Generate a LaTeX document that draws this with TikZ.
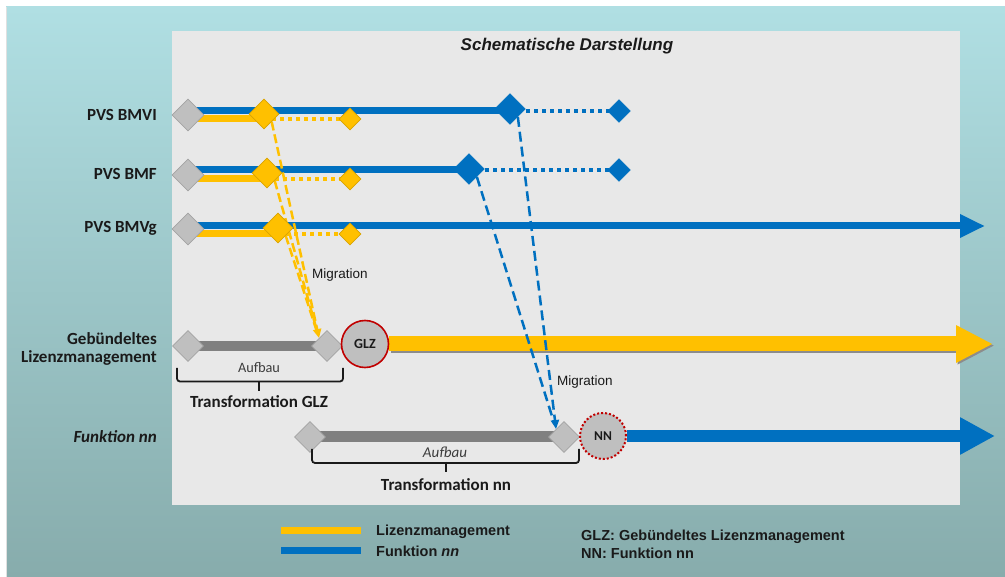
\documentclass[tikz,border=0pt]{standalone}
\usepackage{fontspec}
\setmainfont{Liberation Sans}
\newfontfamily\calfont{Carlito}
\usetikzlibrary{shapes.geometric,arrows.meta}
\pgfdeclarelayer{back}
\pgfdeclarelayer{bg}
\pgfsetlayers{back,bg,main}

\definecolor{tealtop}{HTML}{B0DFE3}
\definecolor{tealbot}{HTML}{87ACAC}
\definecolor{panel}{HTML}{E8E8E8}
\definecolor{fblue}{HTML}{0070C0}
\definecolor{lyellow}{HTML}{FFC000}
\definecolor{ydark}{HTML}{D9A300}
\definecolor{dgray}{HTML}{BFBFBF}
\definecolor{dgrayb}{HTML}{A3A3A3}
\definecolor{bargray}{HTML}{808080}
\definecolor{glzred}{HTML}{C00000}
\definecolor{txt}{HTML}{1A1A1A}

\tikzset{
  gdiam/.style={diamond, draw=dgrayb, fill=dgray, line width=0.8pt, inner sep=0pt, minimum size=32pt},
  ydiam/.style={diamond, draw=ydark, fill=lyellow, line width=0.6pt, inner sep=0pt, minimum size=30pt},
  ysmall/.style={ydiam, minimum size=22pt},
  bdiam/.style={diamond, draw=fblue, fill=fblue, inner sep=0pt, minimum size=31pt},
  bsmall/.style={bdiam, minimum size=23pt},
  blueline/.style={fblue, line width=7pt},
  yline/.style={lyellow, line width=7pt},
  ydot/.style={lyellow, line width=4pt, dash pattern=on 4pt off 4pt},
  bdot/.style={fblue, line width=4pt, dash pattern=on 4pt off 4pt},
  ymig/.style={lyellow, line width=2.5pt, dash pattern=on 9pt off 4pt},
  bmig/.style={fblue, line width=2.5pt, dash pattern=on 10pt off 5pt},
  migtip/.style={-{Triangle[length=9pt,width=8pt]}},
  graybar/.style={bargray, line width=10pt},
  brace/.style={draw=txt, line width=1.8pt, rounded corners=3pt},
  rowlab/.style={anchor=base east, inner sep=0pt, text=txt, align=right,
    font=\calfont\bfseries\fontsize{17}{18}\selectfont},
  translab/.style={anchor=base, inner sep=0pt, text=txt,
    font=\calfont\bfseries\fontsize{17}{18}\selectfont},
  auflab/.style={anchor=base, inner sep=0pt, text=txt!85,
    font=\calfont\fontsize{14.3}{16}\selectfont},
  miglab/.style={anchor=base west, inner sep=0pt, text=txt,
    font=\fontsize{13.5}{15}\selectfont},
  leglab/.style={anchor=base west, inner sep=0pt, text=txt,
    font=\bfseries\fontsize{14.5}{16}\selectfont},
}

\begin{document}
\begin{tikzpicture}[x=1pt,y=-1pt]
\useasboundingbox (0,0) rectangle (1005,577);

% backdrop and drawing panel
\begin{pgfonlayer}{back}
  \fill[white] (0,0) rectangle (1005,577);
  \shade[top color=tealtop, bottom color=tealbot] (6,7) rectangle (1005,577);
  \draw[black!12, line width=0.8pt] (6.4,7) -- (6.4,577);
  \fill[panel] (172,31) rectangle (960,505);
\end{pgfonlayer}

\node[anchor=base, inner sep=0pt, text=txt, font=\bfseries\itshape\fontsize{17}{19}\selectfont]
  (title) at (567,51) {Schematische Darstellung};

% row labels
\node[rowlab] (l1) at (157,121) {PVS BMVI};
\node[rowlab] (l2) at (157,180) {PVS BMF};
\node[rowlab] (l3) at (157,233) {PVS BMVg};
\node[rowlab, anchor=east] (l4) at (157,349) {Gebündeltes\\Lizenzmanagement};
\node[rowlab] (l5) at (157,443) {\itshape Funktion nn};

% line heights of the rows
\coordinate (r1b) at (0,111); \coordinate (r1y) at (0,119);
\coordinate (r2b) at (0,170); \coordinate (r2y) at (0,179);
\coordinate (r3b) at (0,226); \coordinate (r3y) at (0,234);

% milestones, row PVS BMVI
\node[gdiam]  (g1) at (188,115) {};
\node[ydiam]  (y1) at (264,114) {};
\node[ysmall] (s1) at (350,119) {};
\node[bdiam]  (b1) at (510,109) {};
\node[bsmall] (t1) at (619,111) {};
% row PVS BMF
\node[gdiam]  (g2) at (188,175) {};
\node[ydiam]  (y2) at (267,173) {};
\node[ysmall] (s2) at (350,179) {};
\node[bdiam]  (b2) at (469,169) {};
\node[bsmall] (t2) at (619,170) {};
% row PVS BMVg
\node[gdiam]  (g3) at (188,229) {};
\node[ydiam]  (y3) at (278,228) {};
\node[ysmall] (s3) at (350,234) {};
\coordinate (e3) at (985,226);

% row Gebuendeltes Lizenzmanagement
\node[gdiam, minimum size=31pt] (g4a) at (188,346) {};
\node[gdiam, minimum size=31pt] (g4b) at (327,346) {};
\node[circle, draw=glzred, line width=1.6pt, fill=dgray, minimum size=47pt, inner sep=0pt,
      font=\calfont\bfseries\fontsize{14}{15}\selectfont, text=txt] (glz) at (365,344) {GLZ};
\coordinate (e4) at (993,344);

% row Funktion nn
\node[gdiam, minimum size=31pt] (g5a) at (310,437) {};
\node[gdiam, minimum size=31pt] (g5b) at (564,437) {};
\node[circle, draw=glzred, line width=2pt, dotted, fill=dgray, minimum size=46pt, inner sep=0pt,
      font=\calfont\bfseries\fontsize{13.5}{15}\selectfont, text=txt] (nn) at (603,436) {NN};
\coordinate (e5) at (995,436);

% labels
\node[miglab] (m1) at (312,279) {Migration};
\node[miglab] (m2) at (557,386) {Migration};
\node[auflab] (a1) at (259,373) {Aufbau};
\node[auflab, font=\calfont\itshape\fontsize{15}{16}\selectfont] (a2) at (445,457) {Aufbau};
\node[translab] (tr1) at (259,408) {Transformation GLZ};
\node[translab] (tr2) at (446,490) {Transformation nn};

% braces
\draw[brace] (177,368) |- (259,381.5) -| (343,368);
\draw[txt, line width=2pt] (259,381) -- (259,391);
\draw[brace] (312,449) |- (446,463) -| (579,449);
\draw[txt, line width=2pt] (446,462) -- (446,472);

% legend
\coordinate (k1a) at (281,530); \coordinate (k1b) at (361,530);
\coordinate (k2a) at (281,550); \coordinate (k2b) at (361,550);
\draw[yline] (k1a) -- (k1b);
\draw[blueline] (k2a) -- (k2b);
\node[leglab] (k1) at (376,535) {Lizenzmanagement};
\node[leglab] (k2) at (376,556) {Funktion \textit{nn}};
\node[leglab] (k3) at (581,540) {GLZ: Gebündeltes Lizenzmanagement};
\node[leglab] (k4) at (581,558) {NN: Funktion nn};

\begin{pgfonlayer}{bg}
  % row PVS BMVI
  \draw[blueline] (g1 |- r1b) -- (b1 |- r1b);
  \draw[bdot] (b1 |- r1b) -- (t1 |- r1b);
  \draw[yline] (g1 |- r1y) -- (y1 |- r1y);
  \draw[ydot] (y1 |- r1y) -- (s1 |- r1y);
  % row PVS BMF
  \draw[blueline] (g2 |- r2b) -- (b2 |- r2b);
  \draw[bdot] (b2 |- r2b) -- (t2 |- r2b);
  \draw[yline] (g2 |- r2y) -- (y2 |- r2y);
  \draw[ydot] (y2 |- r2y) -- (s2 |- r2y);
  % row PVS BMVg
  \draw[blueline, -{Triangle[length=25pt,width=22pt]}] (g3 |- r3b) -- (e3);
  \draw[yline] (g3 |- r3y) -- (y3 |- r3y);
  \draw[ydot] (y3 |- r3y) -- (s3 |- r3y);
  % build-up bars
  \draw[graybar] (g4a.center) -- (g4b.center);
  \draw[graybar, line width=11pt] (g5a.center) -- (g5b.center);
  % long-running arrows
  \draw[black!45, line width=15pt, -{Triangle[length=37pt,width=35pt]}]
    ([shift={(1.6pt,-1.6pt)}]glz.east) -- ([shift={(1.6pt,-1.6pt)}]e4);
  \draw[lyellow, line width=15pt, -{Triangle[length=37pt,width=35pt]}] (glz.east) -- (e4);
  \draw[fblue, line width=12pt, -{Triangle[length=35pt,width=35pt]}] (nn.east) -- (e5);
  % migration paths
  \draw[ymig, shorten >=8pt] (y2.south east) -- (g4b.north west);
  \draw[ymig, shorten >=8pt] (y3.south east) -- (g4b.north west);
  \draw[ymig, migtip] (y1.south east) -- (g4b.north west);
  \draw[bmig, shorten >=8pt] (b2.south east) -- (g5b.north west);
  \draw[bmig, migtip] (b1.south east) -- (g5b.north west);
\end{pgfonlayer}
\end{tikzpicture}
\end{document}
